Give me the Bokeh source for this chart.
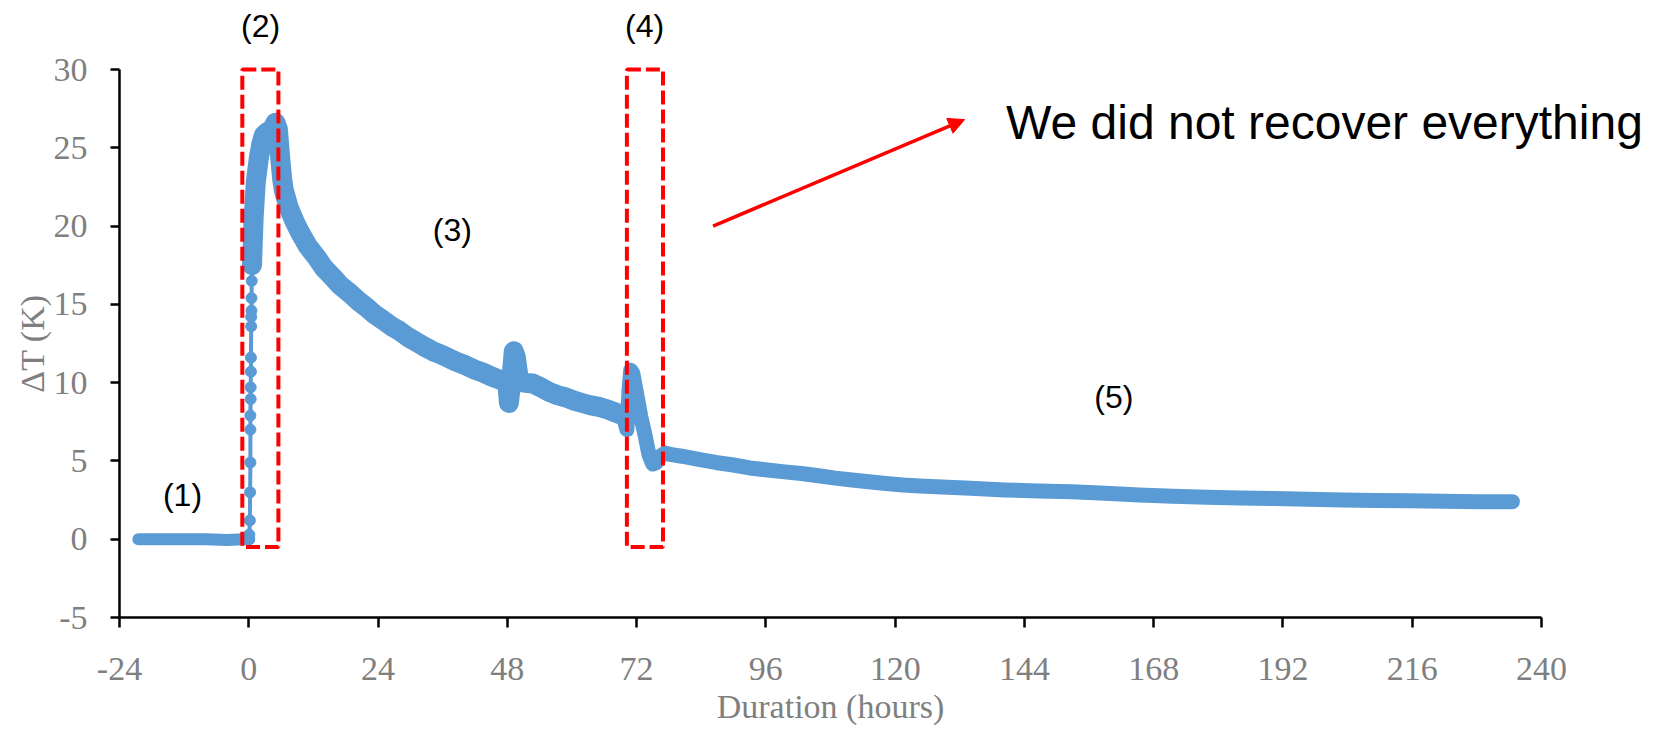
import math
from bokeh.plotting import figure
from bokeh.models import Range1d, Label, Arrow, NormalHead, FixedTicker, PrintfTickFormatter
from bokeh.embed import file_html
from bokeh.resources import INLINE

# ---------------- data ----------------
x_ticks = [-24, 0, 24, 48, 72, 96, 120, 144, 168, 192, 216, 240]
y_ticks = [-5, 0, 5, 10, 15, 20, 25, 30]

# (1) before heating
base_h = [-20.5, -16.0, -12.0, -8.0, -4.0, -1.0, 0.1]
base_dT = [0.0, 0.0, 0.0, 0.0, -0.05, 0.0, 0.0]

# start of heating: sparse points on the rise
rise_h = [0.1, 0.2, 0.25, 0.3, 0.3, 0.3, 0.35, 0.35, 0.4, 0.4, 0.45, 0.45, 0.5, 0.5, 0.55, 0.6]
rise_dT = [0.3, 1.2, 3.0, 4.9, 7.0, 7.9, 8.95, 9.7, 10.7, 11.6, 13.6, 14.2, 14.6, 15.4, 16.5, 17.3]

# (2)-(3) heating and first relaxation
heat_h = [0.6, 0.9, 1.3, 1.85, 2.3, 2.8, 3.4, 4.0, 4.5, 4.95, 5.4, 5.85, 6.2, 6.5, 7.4,
          8.5, 9.5, 11.0, 12.6, 14.0, 15.7, 17.0, 18.8, 20.4, 21.9, 23.4, 24.9, 26.5,
          28.0, 29.6, 31.1, 32.6, 34.2, 35.7, 37.2, 38.8, 40.3, 41.8, 43.4, 45.0, 46.5,
          48.0, 48.3, 48.7, 49.2, 49.6, 50.1, 51.0, 52.7, 54.2, 55.8, 57.3, 58.9, 60.4,
          61.9, 63.5, 65.0, 66.5, 68.0, 69.5]
heat_dT = [17.5, 20.5, 22.8, 24.3, 25.2, 25.8, 26.0, 25.9, 26.3, 26.6, 26.2, 24.3, 23.0, 22.3, 21.2,
           20.3, 19.6, 18.7, 18.0, 17.3, 16.7, 16.2, 15.7, 15.2, 14.8, 14.35, 14.0, 13.6,
           13.3, 12.9, 12.6, 12.3, 12.0, 11.8, 11.55, 11.3, 11.1, 10.85, 10.65, 10.4, 10.2,
           10.0, 8.7, 10.0, 12.0, 11.6, 10.3, 10.0, 9.95, 9.7, 9.4, 9.2, 9.05, 8.85,
           8.7, 8.55, 8.45, 8.3, 8.1, 7.9]

# (4)-(5) second event and final relaxation
rec_h = [69.5, 70.2, 70.6, 70.9, 71.3, 72.0, 72.8, 73.6, 74.3, 75.0, 75.7, 76.4, 77.3, 78.5,
         80.4, 83.5, 86.7, 90.0, 93.0, 96.3, 99.5, 102.6, 105.8, 108.9, 112.0, 115.1, 118.3,
         121.4, 124.6, 127.7, 134.0, 140.3, 146.5, 152.8, 159.0, 165.3, 171.6, 177.9, 184.1,
         190.4, 196.7, 203.0, 209.2, 215.5, 221.8, 228.1, 234.6]
rec_dT = [7.9, 7.0, 9.5, 10.8, 10.6, 9.3, 7.8, 6.6, 5.4, 4.8, 4.9, 5.3, 5.5, 5.4,
          5.3, 5.1, 4.9, 4.74, 4.55, 4.42, 4.3, 4.2, 4.05, 3.9, 3.78, 3.67, 3.56,
          3.46, 3.4, 3.35, 3.25, 3.15, 3.08, 3.03, 2.93, 2.83, 2.75, 2.68, 2.63,
          2.6, 2.55, 2.5, 2.47, 2.45, 2.42, 2.4, 2.4]

# dashed red frames (2) and (4)
box_left = [-1.2, 70.2]
box_right = [5.5, 76.9]
box_bottom = [-0.5, -0.5]
box_top = [30.0, 30.0]

# phase labels
phase_text = ["(1)", "(2)", "(3)", "(4)", "(5)"]
phase_h = [-12.3, 2.2, 37.8, 73.5, 160.6]
phase_dT = [2.8, 32.8, 19.75, 32.8, 9.1]

note_text = "We did not recover everything"
note_h, note_dT = 140.6, 26.62
arrow_start = (86.2, 20.0)
arrow_end = (132.9, 26.8)

x_title = "Duration (hours)"
y_title = "ΔT (K)"
x_axis_span = (-24, 240)
y_axis_span = (-5, 30)

BLUE = "#5B9BD5"
RED = "#FF0000"
GREY = "#7F7F7F"

# ---------------- layout (pixels) ----------------
W, H = 1655, 729
AX_LEFT, AX_TOP = 119, 69        # pixel position of (-24, 30)
AX_W, AX_H = 1422, 548           # pixel length of the drawn axes
px_per_h = AX_W / (x_axis_span[1] - x_axis_span[0])
px_per_K = AX_H / (y_axis_span[1] - y_axis_span[0])
x_start = x_axis_span[0] - AX_LEFT / px_per_h
x_end = x_axis_span[0] + (W - AX_LEFT) / px_per_h
y_end = y_axis_span[1] + AX_TOP / px_per_K
y_start = y_axis_span[0] - (H - AX_TOP - AX_H) / px_per_K

# title positions (data units, derived from pixel targets)
x_title_pos = ((x_axis_span[0] + x_axis_span[1]) / 2, y_axis_span[1] - (706 - AX_TOP) / px_per_K)
y_title_pos = (x_axis_span[0] - (AX_LEFT - 32) / px_per_h, (y_axis_span[0] + y_axis_span[1]) / 2)

p = figure(width=W, height=H, output_backend="svg", toolbar_location=None,
           title=None, x_range=Range1d(x_start, x_end), y_range=Range1d(y_start, y_end),
           min_border=0, min_border_left=0, min_border_right=0, min_border_top=0,
           min_border_bottom=0)
p.outline_line_color = None
p.xgrid.visible = False
p.ygrid.visible = False
p.background_fill_color = "white"
p.border_fill_color = "white"

for ax, ticks, span in ((p.xaxis, x_ticks, x_axis_span), (p.yaxis, y_ticks, y_axis_span)):
    ax.ticker = FixedTicker(ticks=ticks)
    ax.bounds = span
    ax.formatter = PrintfTickFormatter(format="%d")
    ax.axis_line_color = "black"
    ax.axis_line_width = 2.5
    ax.major_tick_line_color = "black"
    ax.major_tick_line_width = 2.5
    ax.major_tick_in = 0
    ax.minor_tick_line_color = None
    ax.major_label_text_font = "Liberation Serif"
    ax.major_label_text_font_size = "34px"
    ax.major_label_text_color = GREY

p.xaxis.fixed_location = y_axis_span[0]
p.yaxis.fixed_location = x_axis_span[0]
p.xaxis.major_tick_out = 10
p.yaxis.major_tick_out = 9
p.xaxis.major_label_standoff = 30
p.yaxis.major_label_standoff = 23

# axis titles
p.add_layout(Label(x=x_title_pos[0], y=x_title_pos[1], text=x_title, text_align="center",
                   text_baseline="middle", text_font="Liberation Serif",
                   text_font_size="34px", text_color=GREY))
p.add_layout(Label(x=y_title_pos[0], y=y_title_pos[1], text=y_title, text_align="center",
                   text_baseline="middle", angle=math.pi / 2, text_font="Liberation Serif",
                   text_font_size="34px", text_color=GREY))

# data
p.line(base_h, base_dT, line_color=BLUE, line_width=12, line_cap="round", line_join="round")
p.line(rise_h, rise_dT, line_color=BLUE, line_width=4)
p.scatter(rise_h, rise_dT, size=11, fill_color=BLUE, line_color=BLUE)
p.line(heat_h, heat_dT, line_color=BLUE, line_width=20, line_cap="round", line_join="round")
p.line(rec_h, rec_dT, line_color=BLUE, line_width=15, line_cap="round", line_join="round")

# dashed frames
p.quad(left=box_left, right=box_right, bottom=box_bottom, top=box_top,
       fill_alpha=0, line_color=RED, line_width=4, line_dash="14 5")

# labels
for t, hx, vy in zip(phase_text, phase_h, phase_dT):
    p.add_layout(Label(x=hx, y=vy, text=t, text_align="center", text_baseline="middle",
                       text_font="Liberation Sans", text_font_size="32px", text_color="black"))

p.add_layout(Label(x=note_h, y=note_dT, text=note_text, text_align="left",
                   text_baseline="alphabetic", text_font="Liberation Sans",
                   text_font_size="48px", text_color="black"))

p.add_layout(Arrow(x_start=arrow_start[0], y_start=arrow_start[1],
                   x_end=arrow_end[0], y_end=arrow_end[1],
                   line_color=RED, line_width=3.5,
                   end=NormalHead(size=16, fill_color=RED, line_color=RED)))

open("out.html", "w").write(file_html(p, INLINE))
